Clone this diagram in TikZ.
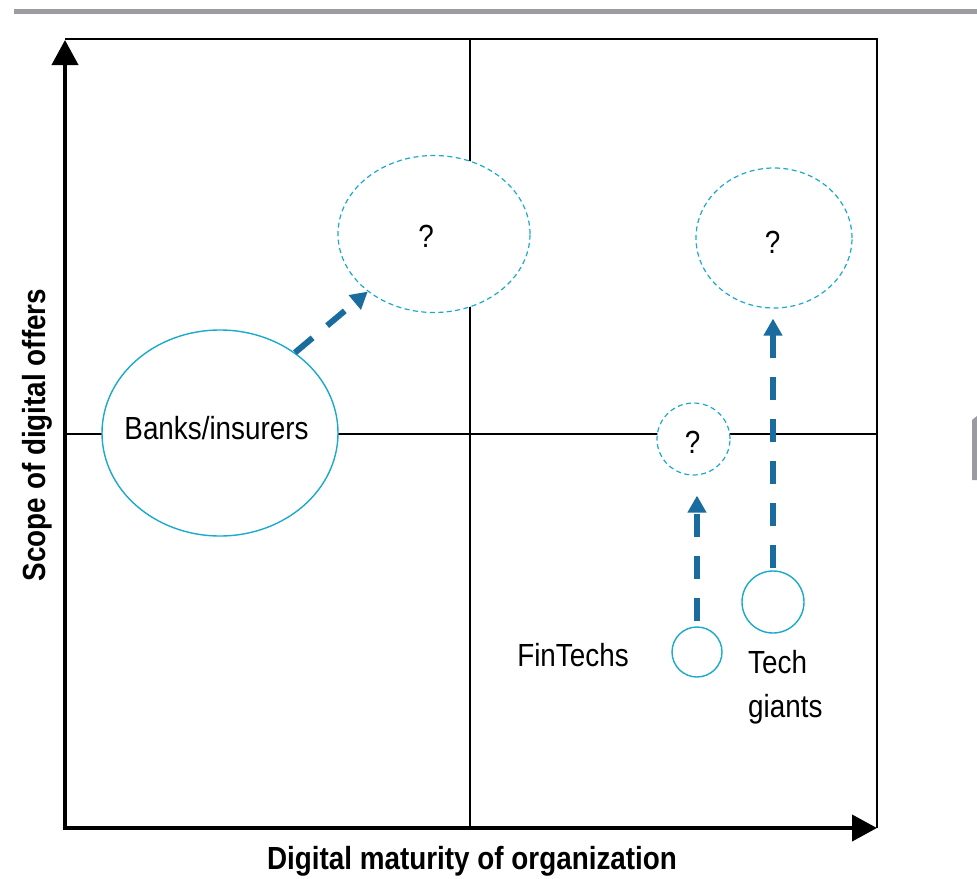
\documentclass[tikz,border=0pt]{standalone}
\usepackage{fontspec}
\setmainfont{Liberation Sans}[FakeStretch=0.87]
\usetikzlibrary{arrows.meta,shapes.geometric}
\definecolor{ringc}{HTML}{1BA9CC}
\definecolor{arrc}{HTML}{1A6C9E}
\definecolor{barc}{HTML}{9A9CA1}
\begin{document}
\begin{tikzpicture}[x=1pt,y=-1pt,
  grid/.style={draw=black, line width=1.5pt},
  axis/.style={draw=black, line width=4pt, line join=miter,
    {Triangle[width=26pt,length=25pt]}-{Triangle[width=26pt,length=25pt]}},
  ring/.style={ellipse, draw=ringc, line width=1.4pt, fill=white, inner sep=0pt},
  qring/.style={ellipse, draw=ringc, line width=1.2pt, dash pattern=on 5pt off 3.5pt, fill=white, inner sep=0pt},
  flow/.style={draw=arrc, line width=6pt, dash pattern=on 23pt off 19pt,
    -{Triangle[width=18pt,length=17pt]}},
  lab/.style={font=\fontsize{32}{44}\selectfont, inner sep=0pt},
  blab/.style={font=\fontsize{32}{44}\selectfont\bfseries, inner sep=0pt}]
\useasboundingbox (0,0) rectangle (977,878);
% decorative bars
\fill[barc] (14,8.5) rectangle (977,13.5);
\fill[barc] (972,420) -- (977,416) -- (977,480) -- (972,480) -- cycle;
% grid
\coordinate (tl) at (65,39);
\coordinate (tr) at (877,39);
\coordinate (br) at (877,828);
\coordinate (o) at (65,828);
\coordinate (mt) at (470,39);
\coordinate (mb) at (470,828);
\coordinate (ml) at (65,434);
\coordinate (mr) at (877,434);
\coordinate (ytip) at (65,40);
\coordinate (xtip) at (877,828);
\draw[grid] (tl) -- (tr) -- (br);
\draw[grid] (mt) -- (mb);
\draw[grid] (ml) -- (mr);
\draw[axis] (ytip) -- (o) -- (xtip);
% ellipses
\node[ring, minimum width=236pt, minimum height=206pt] (banks) at (220,433) {};
\node[qring, minimum width=192pt, minimum height=157pt] (q1) at (434,234) {};
\node[qring, minimum width=156pt, minimum height=140pt] (q2) at (774,238) {};
\node[qring, minimum width=73pt, minimum height=72pt] (q3) at (693.5,439) {};
\node[ring, minimum width=50pt, minimum height=50pt] (fin) at (697,652) {};
\node[ring, minimum width=62pt, minimum height=62pt] (tech) at (773,602) {};
% arrows
\draw[flow] (banks.47) -- (q1.221);
\draw[flow, shorten <=5pt, shorten >=20pt] (fin.north) -- (fin.north |- q3.south);
\draw[flow, shorten <=2pt, shorten >=10pt] (tech.north) -- (tech.north |- q2.south);
% texts
\node[lab, anchor=base] (tbanks) at (216.5,439) {Banks/insurers};
\node[lab, anchor=base] (t1) at (426,247) {?};
\node[lab, anchor=base] (t2) at (772.5,253) {?};
\node[lab, anchor=base] (t3) at (692.5,453) {?};
\node[lab, anchor=base] (tfin) at (573,666) {FinTechs};
\node[lab, anchor=base west] (ttech) at (748,673) {Tech};
\node[lab, anchor=base west] (tgiants) at (748,717) {giants};
\node[blab, anchor=base] (xl) at (472,869) {Digital maturity of organization};
\node[blab, anchor=base, rotate=90] (yl) at (45,435) {Scope of digital offers};
\end{tikzpicture}
\end{document}
